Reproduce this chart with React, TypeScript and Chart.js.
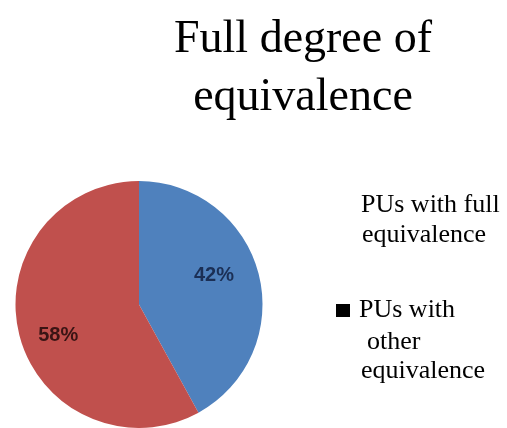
import React, { useEffect, useRef } from "react";
import { Chart, registerables } from "chart.js";

Chart.register(...registerables);

const titleLines = ["Full degree of", "equivalence"];
const categories = ["PUs with full equivalence", "PUs with other equivalence"];
const legendLines = [
  ["PUs with full", "equivalence"],
  ["PUs with", " other", "equivalence"],
];
const values = [42, 58];
const sliceColors = ["#4F81BD", "#C0504D"];
const labelColors = ["#1B2F55", "#3A1414"];
const showMarker = [false, true];

const overlayPlugin = {
  id: "overlay",
  afterDatasetsDraw(chart: any) {
    const ctx = chart.ctx as CanvasRenderingContext2D;
    const meta = chart.getDatasetMeta(0);
    const total = values.reduce((a, b) => a + b, 0);
    ctx.save();
    // data labels
    ctx.font = "bold 20px 'Liberation Sans', Arial, sans-serif";
    ctx.textAlign = "center";
    ctx.textBaseline = "middle";
    const radial = [0.65, 0.7];
    const shift = (-6.5 * Math.PI) / 180;
    meta.data.forEach((arc: any, i: number) => {
      const p = arc.getProps(["x", "y", "startAngle", "endAngle", "outerRadius"], true);
      const mid = (p.startAngle + p.endAngle) / 2 + shift;
      const r = p.outerRadius * radial[i];
      const x = p.x + Math.cos(mid) * r;
      const y = p.y + Math.sin(mid) * r;
      ctx.fillStyle = labelColors[i];
      ctx.fillText(Math.round((values[i] / total) * 100) + "%", x, y);
    });
    // title
    ctx.fillStyle = "#000";
    ctx.font = "46px 'Liberation Serif', 'Times New Roman', serif";
    ctx.textAlign = "center";
    ctx.textBaseline = "alphabetic";
    const titleBase = [52, 110];
    titleLines.forEach((t, i) => ctx.fillText(t, 303, titleBase[i]));
    // legend
    ctx.font = "26px 'Liberation Serif', 'Times New Roman', serif";
    ctx.textAlign = "left";
    const legendX = [
      [361, 362],
      [359, 367, 361],
    ];
    const legendBase = [
      [212, 242],
      [317, 349, 378],
    ];
    legendLines.forEach((lines, i) => {
      lines.forEach((ln, j) => {
        ctx.fillText(ln.trim(), legendX[i][j], legendBase[i][j]);
      });
      if (showMarker[i]) {
        ctx.fillStyle = "#000";
        ctx.fillRect(336, legendBase[i][0] - 13, 14, 13);
      }
    });
    ctx.restore();
  },
};

export default function App() {
  const ref = useRef<HTMLCanvasElement | null>(null);
  useEffect(() => {
    if (!ref.current) return;
    const chart = new Chart(ref.current, {
      type: "pie",
      data: {
        labels: categories,
        datasets: [
          {
            data: values,
            backgroundColor: sliceColors,
            borderWidth: 0,
          },
        ],
      },
      options: {
        animation: false,
        responsive: false,
        maintainAspectRatio: false,
        layout: { padding: { left: 14, right: 243, top: 181, bottom: -3 } },
        plugins: {
          legend: { display: false },
          title: { display: false },
          tooltip: { enabled: false },
        },
      },
      plugins: [overlayPlugin],
    });
    return () => chart.destroy();
  }, []);
  return (
    <div style={{ position: "absolute", left: 0, top: 0, width: 507, height: 428, overflow: "hidden", background: "#fff" }}>
      <canvas ref={ref} width={507} height={428} style={{ width: 507, height: 428, display: "block" }} />
    </div>
  );
}
